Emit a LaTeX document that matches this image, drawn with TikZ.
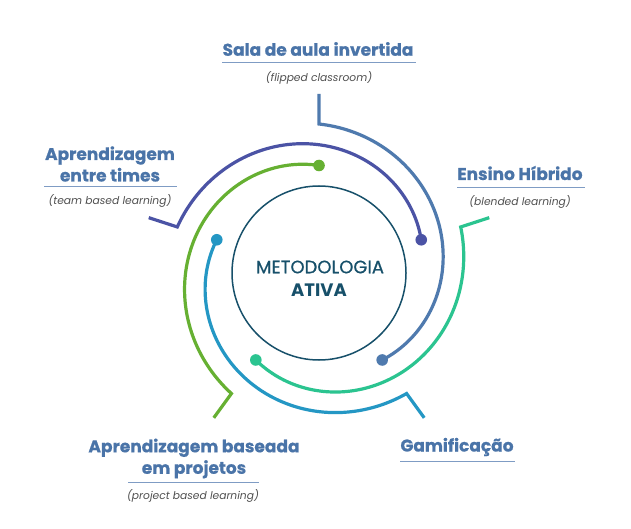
\documentclass[tikz,border=0pt]{standalone}
\usepackage{fontspec}
\setmainfont{Poppins}
\newfontfamily\medfont{Poppins}[FakeBold=0.7]
\newfontfamily\heavyfont{Poppins}[FakeBold=0.6]
\begin{document}
\begin{tikzpicture}[x=1pt,y=-1pt]
\definecolor{cslate}{HTML}{4F7AAE}
\definecolor{cpurple}{HTML}{4B53A5}
\definecolor{cteal}{HTML}{2BC490}
\definecolor{cblue}{HTML}{2497C4}
\definecolor{cgreen}{HTML}{66B032}
\definecolor{ctitle}{HTML}{4A74A8}
\definecolor{cline}{HTML}{7F9CC4}
\definecolor{csub}{HTML}{505050}
\definecolor{ccenter}{HTML}{17506A}
\tikzset{
  arcline/.style={line width=3.2pt, line join=miter},
  title/.style={text=ctitle, font=\fontsize{17}{21.5}\selectfont\heavyfont\bfseries, align=center, inner sep=0pt},
  subtitle/.style={text=csub, font=\fontsize{10.7}{12}\selectfont\itshape, inner sep=0pt},
  uline/.style={cline, line width=1pt},
}
\useasboundingbox[fill=white] (0,0) rectangle (631,529);
% centre
\node[draw=ccenter, line width=1.5pt, circle, minimum size=174pt, inner sep=0pt] (core) at (319,273) {};
\node[text=ccenter, font=\fontsize{18}{22}\selectfont\medfont, inner sep=0pt] (met) at (320,267) {METODOLOGIA};
\node[text=ccenter, font=\fontsize{18}{22}\selectfont\bfseries, inner sep=0pt] (ativa) at (319,290) {ATIVA};
% spirals: start angle, r from 149 to 107.5 over 144 deg clockwise
\def\cx{319}\def\cy{273}
\foreach \th/\col/\nm in {90/cslate/s, 18/cteal/t, -54/cblue/b, 234/cgreen/g, 162/cpurple/p}{
  \coordinate (leg\nm) at ({\cx+179*cos(\th)},{\cy-179*sin(\th)});
  \coordinate (end\nm) at ({\cx+107.5*cos(\th-144)},{\cy-107.5*sin(\th-144)});
  \draw[arcline, \col] (leg\nm) -- plot[domain=0:144, samples=90, smooth]
    ({\cx+(149-0.288*\x)*cos(\th-\x)},{\cy-(149-0.288*\x)*sin(\th-\x)});
  \fill[\col] (end\nm) circle (5.8);
}
% labels
\node[title] (sala) at (318,49) {Sala de aula invertida};
\coordinate (sala1) at (222,63); \coordinate (sala2) at (416,63);
\draw[uline] (sala1) -- (sala2);
\node[subtitle] (salas) at (319,78) {(flipped classroom)};

\node[title] (times) at (110,164) {Aprendizagem\\entre times};
\coordinate (times1) at (44,187); \coordinate (times2) at (177,187);
\draw[uline] (times1) -- (times2);
\node[subtitle] (timess) at (110,201) {(team based learning)};

\node[title] (ensino) at (520,173) {Ensino Híbrido};
\coordinate (ens1) at (457,188); \coordinate (ens2) at (585,188);
\draw[uline] (ens1) -- (ens2);
\node[subtitle] (ensinos) at (520,202) {(blended learning)};

\node[title] (proj) at (194,458.5) {Aprendizagem baseada\\em projetos};
\coordinate (proj1) at (128,482); \coordinate (proj2) at (259,482);
\draw[uline] (proj1) -- (proj2);
\node[subtitle] (projs) at (193,496) {(project based learning)};

\node[title] (gam) at (457,447) {Gamificação};
\coordinate (gam1) at (400,461); \coordinate (gam2) at (515,461);
\draw[uline] (gam1) -- (gam2);
\end{tikzpicture}
\end{document}
